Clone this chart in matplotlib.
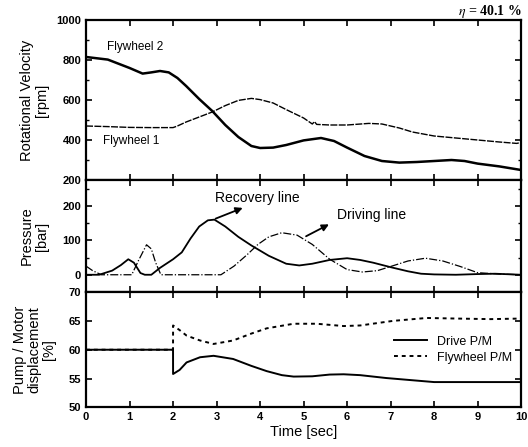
import matplotlib.pyplot as plt
from matplotlib.ticker import MultipleLocator

plt.rcParams['font.family'] = ['Liberation Sans', 'DejaVu Sans']
plt.rcParams['mathtext.fontset'] = 'stix'

# rotational velocity [rpm]
t_fw2 = [0, 0.5, 1.0, 1.3, 1.5, 1.7, 1.9, 2.1, 2.3, 2.6, 2.9, 3.2, 3.5, 3.8, 4.0, 4.3, 4.6,
         5.0, 5.4, 5.7, 6.0, 6.4, 6.8, 7.2, 7.6, 8.0, 8.4, 8.7, 9.0, 9.5, 10]
fw2 = [815, 802, 760, 732, 738, 745, 738, 710, 670, 605, 545, 475, 415, 370, 360, 362, 375,
       398, 410, 395, 362, 320, 295, 287, 290, 295, 300, 295, 282, 268, 250]
t_fw1 = [0, 0.5, 1.0, 1.5, 2.0, 2.1, 2.3, 2.6, 2.9, 3.2, 3.5, 3.8, 4.0, 4.3, 4.6, 5.0, 5.2,
         5.25, 5.3, 5.6, 6.0, 6.5, 6.8, 7.2, 7.5, 8.0, 8.5, 9.0, 9.5, 9.9, 10]
fw1 = [470, 467, 463, 462, 462, 470, 490, 515, 540, 572, 598, 608, 602, 585, 552, 510, 480,
       492, 478, 475, 475, 483, 480, 460, 440, 420, 410, 400, 390, 383, 388]

# pressure [bar]
t_rec = [0, 0.3, 0.6, 0.8, 0.97, 1.1, 1.25, 1.35, 1.5, 1.7, 2.0, 2.2, 2.4, 2.6, 2.8, 2.95,
         3.2, 3.5, 3.8, 4.2, 4.6, 4.9, 5.2, 5.6, 6.0, 6.3, 6.6, 7.0, 7.4, 7.7, 8.0, 8.5,
         9.0, 9.4, 10]
rec = [0, 0, 12, 28, 45, 35, 5, 0, 0, 20, 45, 65, 105, 140, 158, 160,
       140, 110, 85, 55, 32, 27, 32, 43, 48, 43, 35, 22, 10, 3, 1, 0,
       2, 3, 0]
t_drv = [0, 0.15, 0.35, 1.05, 1.2, 1.39, 1.5, 1.6, 1.72, 3.1, 3.4, 3.7, 3.95, 4.2, 4.5,
         4.85, 5.2, 5.6, 6.0, 6.35, 6.7, 7.0, 7.4, 7.8, 8.2, 8.6, 9.0, 9.5, 10]
drv = [25, 12, 0, 0, 40, 87, 75, 35, 0, 0, 25, 58, 88, 110, 122,
       115, 88, 45, 15, 8, 12, 24, 40, 48, 40, 24, 6, 2, 0]

# pump / motor displacement [%]
t_dpm = [0, 1.999, 2.0, 2.15, 2.31, 2.62, 2.93, 3.38, 3.8, 4.15, 4.5, 4.77, 5.2, 5.6, 5.92,
         6.3, 6.9, 7.45, 8.0, 9.0, 10]
dpm = [60, 60, 55.8, 56.5, 57.8, 58.7, 58.95, 58.4, 57.2, 56.3, 55.6, 55.35, 55.4, 55.7, 55.75,
       55.6, 55.1, 54.75, 54.4, 54.4, 54.4]
t_fpm = [0, 1.999, 2.0, 2.15, 2.31, 2.62, 2.93, 3.38, 3.8, 4.15, 4.77, 5.3, 5.92, 6.3, 7.06,
         7.83, 8.5, 9.3, 10]
fpm = [60, 60, 64.2, 63.4, 62.45, 61.6, 61.0, 61.6, 62.8, 63.7, 64.5, 64.5, 64.1, 64.2, 65.0,
       65.5, 65.4, 65.3, 65.4]

fig = plt.figure(figsize=(5.28, 4.47), dpi=100)
ax1 = fig.add_axes([0.163, 0.5973, 0.824, 0.358])
ax2 = fig.add_axes([0.163, 0.3468, 0.824, 0.2505])
ax3 = fig.add_axes([0.163, 0.0884, 0.824, 0.2584])

for ax in (ax1, ax2, ax3):
    ax.set_xlim(0, 10)
    ax.xaxis.set_major_locator(MultipleLocator(1))
    ax.tick_params(direction='in', top=True, right=True, length=4, width=1.2,
                   labelsize=8)
    ax.tick_params(which='minor', direction='in', top=True, right=True, length=2, width=1)
    for s in ax.spines.values():
        s.set_linewidth(1.6)

ax1.plot(t_fw2, fw2, color='black', linewidth=1.8)
ax1.plot(t_fw1, fw1, color='black', linewidth=1.0, linestyle=(0, (5, 1)))
ax1.set_ylim(200, 1000)
ax1.set_yticks([200, 400, 600, 800, 1000])
ax1.yaxis.set_minor_locator(MultipleLocator(100))
ax1.set_xticklabels([])
ax1.set_ylabel('Rotational Velocity\n[rpm]', fontsize=10.5, linespacing=1.1)
ax1.yaxis.set_label_coords(-0.085, 0.5)
ax1.text(0.48, 865, 'Flywheel 2', fontsize=8.5, va='center')
ax1.text(0.39, 395, 'Flywheel 1', fontsize=8.5, va='center')
fig.text(0.988, 0.974, r'$\eta$ = 40.1 %', ha='right', va='center', fontsize=10,
         family='Liberation Serif', fontweight='bold')

ax2.plot(t_rec, rec, color='black', linewidth=1.3)
ax2.plot(t_drv, drv, color='black', linewidth=0.9, linestyle='-.')
ax2.set_ylim(-50, 275)
ax2.set_yticks([0, 100, 200])
ax2.yaxis.set_minor_locator(MultipleLocator(50))
ax2.set_xticklabels([])
ax2.set_ylabel('Pressure\n[bar]', fontsize=10.5, linespacing=1.1)
ax2.yaxis.set_label_coords(-0.085, 0.5)
ax2.annotate('', xy=(3.66, 197), xytext=(2.92, 160),
             arrowprops=dict(arrowstyle='-|>', color='black', lw=1.3))
ax2.text(2.97, 222, 'Recovery line', fontsize=10, va='center')
ax2.annotate('', xy=(5.64, 150), xytext=(5.0, 108),
             arrowprops=dict(arrowstyle='-|>', color='black', lw=1.3))
ax2.text(5.77, 174, 'Driving line', fontsize=10, va='center')

ax3.plot(t_dpm, dpm, color='black', linewidth=1.4, label='Drive P/M')
ax3.plot(t_fpm, fpm, color='black', linewidth=1.4, linestyle=(0, (2, 2)),
         label='Flywheel P/M')
ax3.set_ylim(50, 70)
ax3.set_yticks([50, 55, 60, 65, 70])
ax3.set_ylabel('Pump / Motor\ndisplacement\n[%]', fontsize=10.5, linespacing=1.05)
ax3.yaxis.set_label_coords(-0.07, 0.5)
ax3.set_xlabel('Time [sec]', fontsize=10.5, labelpad=2)
ax3.legend(loc='center right', bbox_to_anchor=(0.99, 0.5), frameon=False, fontsize=9,
           handlelength=2.6, labelspacing=0.3, borderaxespad=0)

for ax in (ax1, ax2, ax3):
    for lab in ax.get_yticklabels() + ax.get_xticklabels():
        lab.set_fontweight('bold')

fig.savefig('out.png', dpi=100)
